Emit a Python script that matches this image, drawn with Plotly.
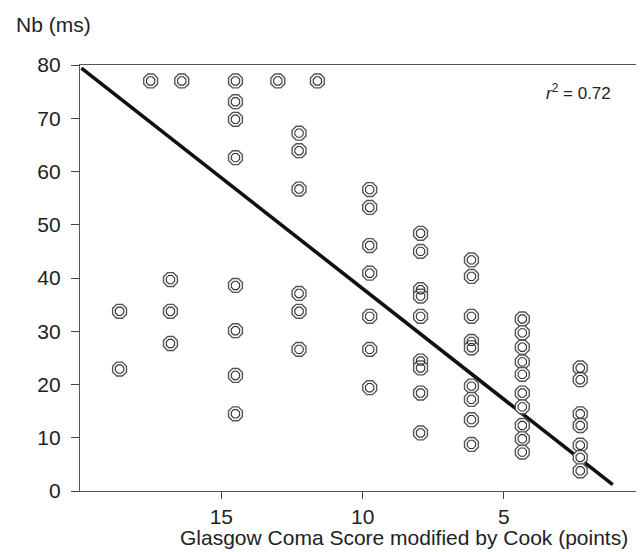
import plotly.graph_objects as go

# Data: Glasgow Coma Score (modified by Cook) columns and Nb latency values (ms)
col_x = [18.6, 17.5, 16.8, 16.4, 14.5, 13.0, 12.25, 11.6, 9.75, 7.95, 6.15, 4.35, 2.3]
col_y = [
    [33.75, 22.9],
    [77.0],
    [39.7, 33.75, 27.7],
    [77.0],
    [77.0, 73.1, 69.8, 62.6, 38.6, 30.1, 21.7, 14.5],
    [77.0],
    [67.2, 63.9, 56.7, 37.1, 33.75, 26.6],
    [77.0],
    [56.6, 53.25, 46.1, 40.9, 32.8, 26.6, 19.4],
    [48.4, 45.0, 37.8, 36.6, 32.8, 24.4, 23.1, 18.4, 10.9],
    [43.4, 40.3, 32.8, 28.1, 26.9, 19.7, 17.2, 13.4, 8.75],
    [32.3, 29.7, 27.0, 24.25, 21.9, 18.4, 15.8, 12.3, 9.8, 7.3],
    [23.1, 20.9, 14.5, 12.3, 8.6, 6.3, 3.8],
]
# Regression line end points
fit_x = [19.95, 1.15]
fit_y = [79.4, 1.2]
r2_text = "0.72"

x_ticks = [15, 10, 5]
y_ticks = [0, 10, 20, 30, 40, 50, 60, 70, 80]

xs, ys = [], []
for cx, vals in zip(col_x, col_y):
    for v in vals:
        xs.append(cx)
        ys.append(v)

fig = go.Figure()
fig.add_trace(go.Scatter(x=fit_x, y=fit_y, mode="lines",
                         line=dict(color="#111111", width=3.6), showlegend=False))
fig.add_trace(go.Scatter(x=xs, y=ys, mode="markers", showlegend=False,
                         marker=dict(symbol="octagon", size=15, color="white",
                                     line=dict(color="#555555", width=1.4))))
fig.add_trace(go.Scatter(x=xs, y=ys, mode="markers", showlegend=False,
                         marker=dict(symbol="octagon-open", size=9, color="#333333",
                                     line=dict(color="#333333", width=1.1))))

FAM = "Liberation Sans, Arial, sans-serif"
font = dict(family=FAM, size=21, color="#222222")
axis_common = dict(showgrid=False, zeroline=False, showline=True, mirror=True,
                   linecolor="#555555", linewidth=1.3, ticks="outside",
                   tickcolor="#444444", tickwidth=1.2, tickfont=font)

PW, PH = 561.0, 426.0
fig.update_layout(
    width=636, height=544,
    margin=dict(l=72, r=3, t=57, b=61),
    paper_bgcolor="white", plot_bgcolor="white",
    font=font,
    xaxis=dict(range=[20, 0.15], tickvals=x_ticks, ticklen=7,
               ticklabelstandoff=0, **axis_common),
    yaxis=dict(range=[0, 80], tickvals=y_ticks, ticklen=8,
               ticklabelstandoff=6, **axis_common),
    annotations=[
        dict(text="Nb (ms)", xref="paper", yref="paper", x=(6.4 - 72) / PW, y=1 + 40.5 / PH,
             xanchor="left", yanchor="middle", showarrow=False, font=font),
        dict(text="Glasgow Coma Score modified by Cook (points)", xref="paper", yref="paper",
             x=(622 - 72) / PW, y=-46 / PH, xanchor="right", yanchor="middle",
             showarrow=False, font=font),
        dict(text="<i>r</i><sup>2</sup> = " + r2_text, xref="paper", yref="paper",
             x=(613.3 - 80) / PW, y=1 - 27 / PH, xanchor="right", yanchor="middle",
             showarrow=False, font=dict(family=FAM, size=17, color="#222222")),
    ],
)

fig.write_html("out.html")
